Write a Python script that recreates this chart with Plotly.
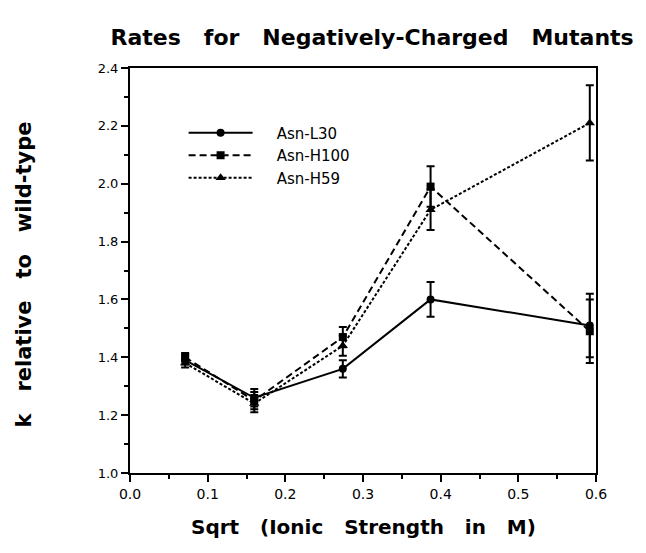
import plotly.graph_objects as go

# ---- data ----
x_vals = [0.071, 0.160, 0.274, 0.387, 0.592]

series_names = ["Asn-L30", "Asn-H100", "Asn-H59"]
l30 = [1.39, 1.26, 1.36, 1.60, 1.51]
l30_err = [0.015, 0.03, 0.03, 0.06, 0.11]
h100 = [1.40, 1.25, 1.47, 1.99, 1.49]
h100_err = [0.015, 0.03, 0.035, 0.07, 0.11]
h59 = [1.38, 1.24, 1.44, 1.91, 2.21]
h59_err = [0.015, 0.03, 0.035, 0.07, 0.13]

x_ticks = [0.0, 0.1, 0.2, 0.3, 0.4, 0.5, 0.6]
y_ticks = [1.0, 1.2, 1.4, 1.6, 1.8, 2.0, 2.2, 2.4]

NB = "\u00a0"
title_text = (NB * 3).join(["Rates", "for", "Negatively-Charged", "Mutants"])
xtitle_text = (NB * 3).join(["Sqrt", "(Ionic", "Strength", "in", "M)"])
ytitle_text = (NB * 3).join(["k", "relative", "to", "wild-type"])

styles = [
    dict(y=l30, err=l30_err, dash="solid", symbol="circle", size=8),
    dict(y=h100, err=h100_err, dash="7px,4px", symbol="square", size=8),
    dict(y=h59, err=h59_err, dash="3px,2px", symbol="triangle-up", size=9),
]

fig = go.Figure()
for name, st in zip(series_names, styles):
    fig.add_trace(go.Scatter(
        x=x_vals, y=st["y"], name=NB * 4 + name, mode="lines+markers",
        line=dict(color="black", width=2, dash=st["dash"]),
        marker=dict(color="black", symbol=st["symbol"], size=st["size"]),
        error_y=dict(type="data", array=st["err"], visible=True,
                     color="black", thickness=2, width=4),
    ))

axis_common = dict(
    showline=True, linecolor="black", linewidth=2, mirror=True,
    ticks="outside", tickcolor="black", tickwidth=2, ticklen=7,
    showgrid=False, zeroline=False,
)

fig.update_layout(
    width=646, height=553,
    margin=dict(l=130, r=50, t=68, b=80),
    paper_bgcolor="white", plot_bgcolor="white",
    showlegend=True,
    legend=dict(
        x=0.115, y=0.88, xanchor="left", yanchor="top",
        bgcolor="rgba(0,0,0,0)", borderwidth=0,
        font=dict(family="DejaVu Sans", size=15, color="black"),
        itemwidth=64, tracegroupgap=0,
    ),
    title=dict(text=title_text, x=0.576, xanchor="center", y=0.933, yanchor="middle",
               font=dict(family="DejaVu Sans", size=22, color="black", weight="bold")),
    xaxis=dict(range=[0, 0.6], tickvals=x_ticks, ticktext=[f"{v:.1f}" for v in x_ticks],
               tickfont=dict(family="DejaVu Sans", size=14, color="black"),
               minor=dict(dtick=0.05, ticks="outside", ticklen=4, tickwidth=2, tickcolor="black"),
               **axis_common),
    yaxis=dict(range=[1.0, 2.4], tickvals=y_ticks, ticktext=[f"{v:.1f}" for v in y_ticks],
               tickfont=dict(family="DejaVu Sans", size=13, color="black"),
               minor=dict(dtick=0.1, ticks="outside", ticklen=4, tickwidth=2, tickcolor="black"),
               **axis_common),
    annotations=[
        dict(text=xtitle_text, xref="paper", yref="paper", x=0.5, y=0, xanchor="center",
             yanchor="middle", yshift=-54, showarrow=False,
             font=dict(family="DejaVu Sans", size=20, color="black", weight="bold")),
        dict(text=ytitle_text, xref="paper", yref="paper", x=0, y=0.5, xanchor="center",
             yanchor="middle", xshift=-107, yshift=-4, textangle=-90, showarrow=False,
             font=dict(family="DejaVu Sans", size=21, color="black", weight="bold")),
    ],
)

fig.write_html("out.html")
